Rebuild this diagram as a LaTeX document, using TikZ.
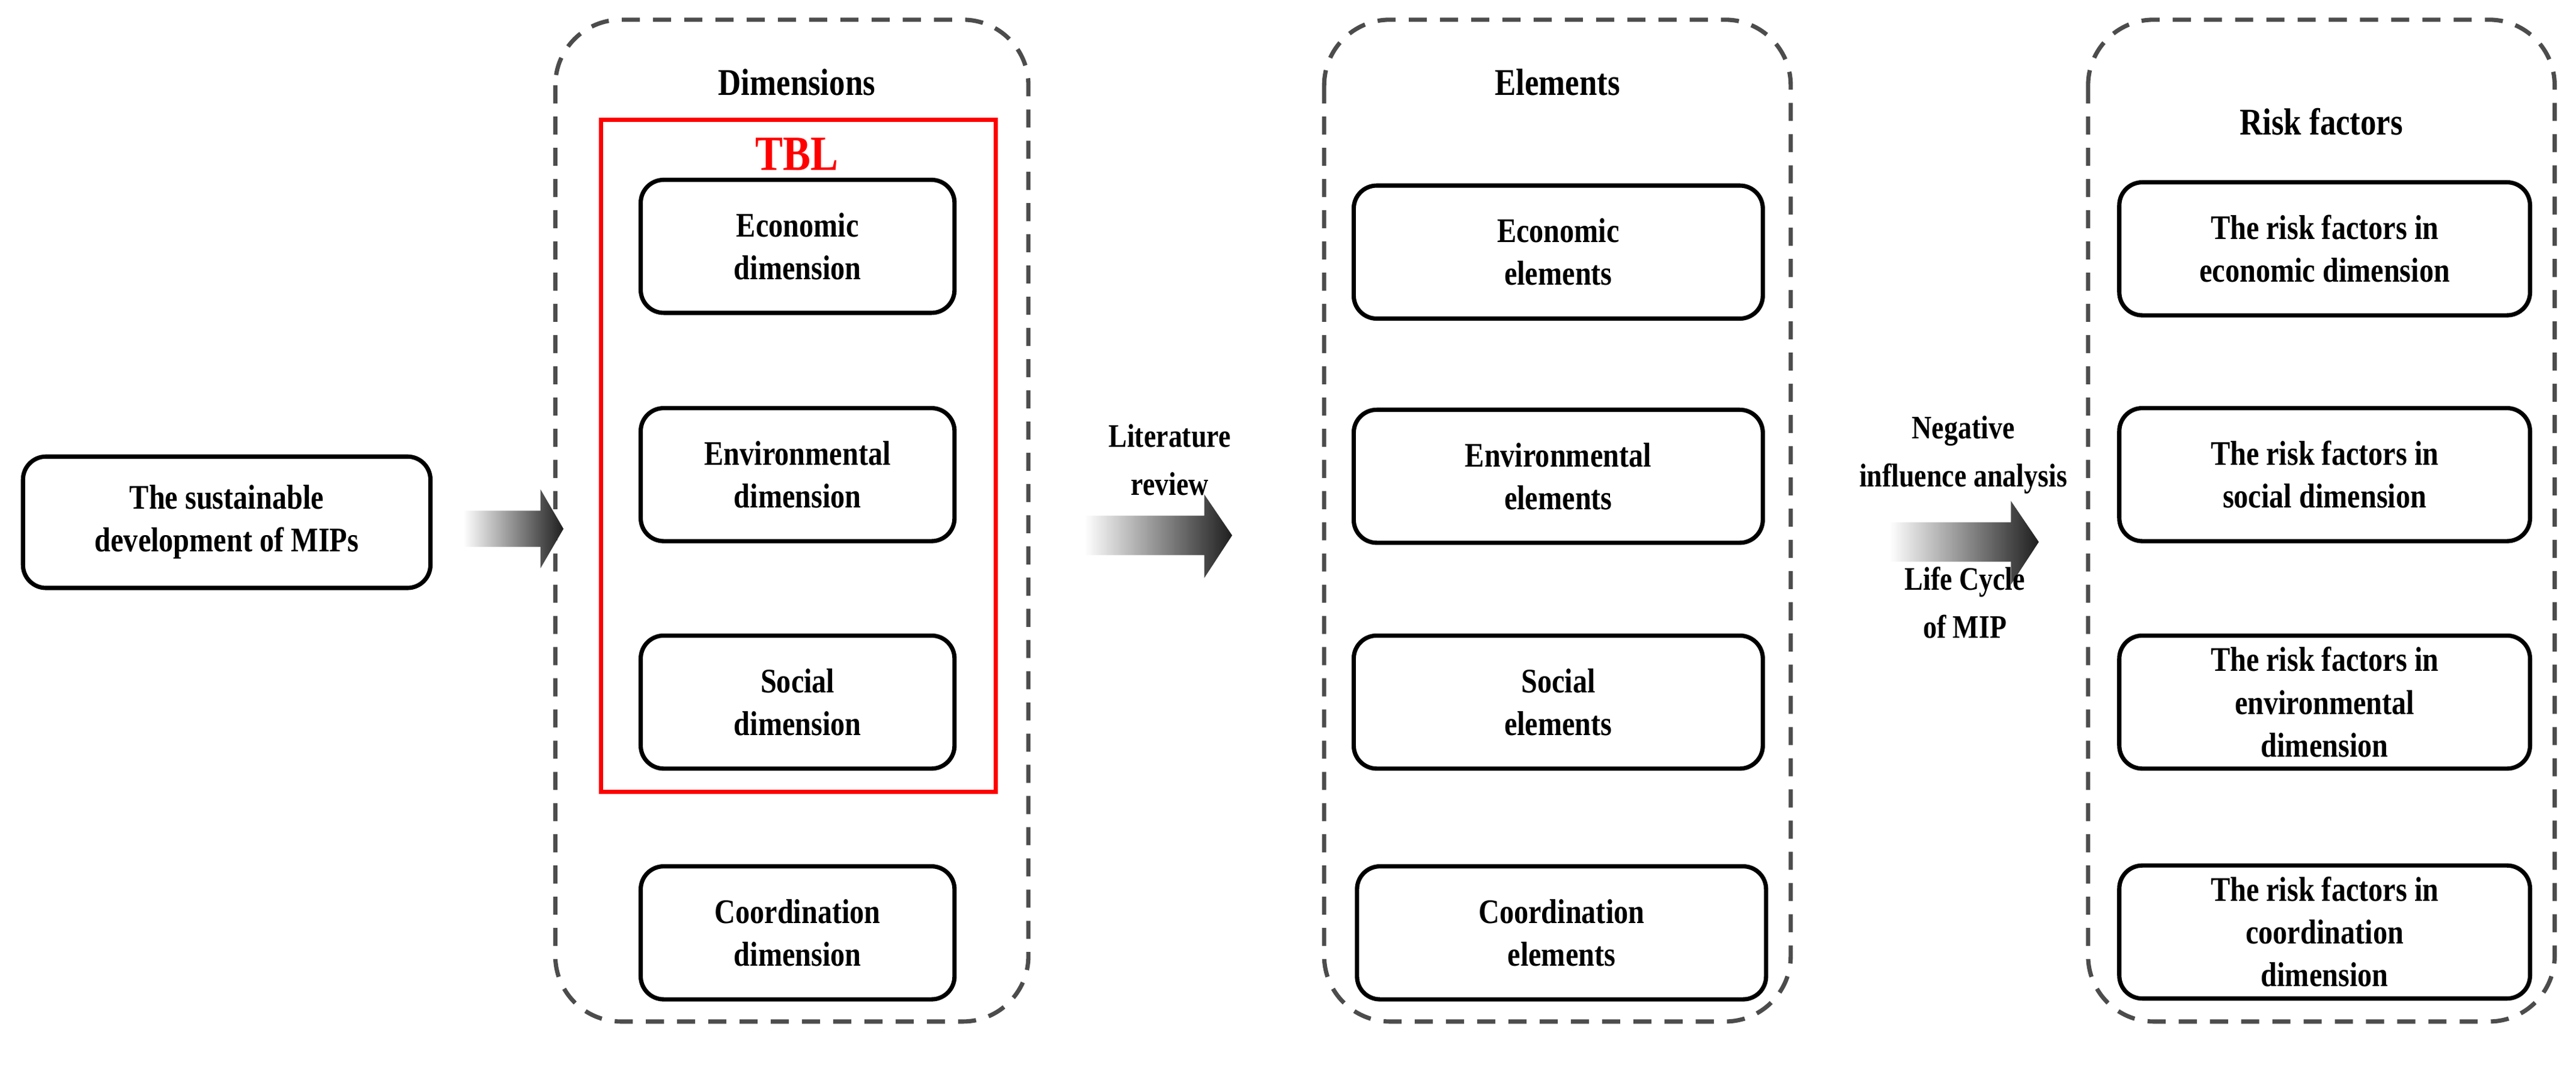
\documentclass[tikz,border=0pt]{standalone}
\usepackage{fontspec}
\setmainfont{Liberation Serif}[FakeStretch=0.84]
\begin{document}
\begin{tikzpicture}[x=1pt,y=-1pt,
  box/.style={draw=black,line width=2.6pt,rounded corners=14pt,fill=white,align=center,
    font=\fontsize{21}{26}\selectfont\bfseries,inner sep=0pt},
  cont/.style={draw=black!70,line width=2.6pt,dash pattern=on 11pt off 8pt,rounded corners=40pt},
  ttl/.style={font=\fontsize{23}{28}\selectfont\bfseries},
  lab/.style={font=\fontsize{20}{29}\selectfont\bfseries,align=center},
  shd/.style={left color=white,right color=black!88}]
\useasboundingbox (0,0) rectangle (1568,660);
% containers
\draw[cont] (338,12) rectangle (626,622);
\draw[cont] (806,12) rectangle (1090,622);
\draw[cont] (1271,12) rectangle (1555,622);
\node[ttl] (t1) at (485,50) {Dimensions};
\node[ttl] (t2) at (948,50) {Elements};
\node[ttl] (t3) at (1413,74) {Risk factors};
% red TBL
\draw[red,line width=2.6pt] (366,73) rectangle (606,482);
\node[font=\fontsize{30}{34}\selectfont\bfseries,text=red] (tbl) at (485,94) {TBL};
% left
\node[box,minimum width=248pt,minimum height=80pt] (sd) at (138,318) {The sustainable\\development of MIPs};
% column 1
\begin{scope}[every node/.style={box,minimum width=191pt,minimum height=81pt}]
\node (d1) at (485.5,150) {Economic\\dimension};
\node (d2) at (485.5,289) {Environmental\\dimension};
\node (d3) at (485.5,427.5) {Social\\dimension};
\node (d4) at (485.5,568) {Coordination\\dimension};
\end{scope}
\begin{scope}[every node/.style={box,minimum width=249pt,minimum height=81pt}]
\node (e1) at (948.5,153.5) {Economic\\elements};
\node (e2) at (948.5,290) {Environmental\\elements};
\node (e3) at (948.5,427.5) {Social\\elements};
\node (e4) at (950.5,568) {Coordination\\elements};
\end{scope}
\begin{scope}[every node/.style={box,minimum width=250pt,minimum height=81pt}]
\node (r1) at (1415,151.5) {The risk factors in\\economic dimension};
\node (r2) at (1415,289) {The risk factors in\\social dimension};
\node (r3) at (1415,427.5) {The risk factors in\\environmental\\dimension};
\node (r4) at (1415,567.5) {The risk factors in\\coordination\\dimension};
\end{scope}
% arrows
\shade[shd] (282,311) -- (329,311) -- (329,298) -- (343,322) -- (329,346) -- (329,333) -- (282,333) -- cycle;
\shade[shd] (660,314) -- (733,314) -- (733,301) -- (750,326) -- (733,352) -- (733,338) -- (660,338) -- cycle;
\shade[shd] (1150,318) -- (1224,318) -- (1224,305) -- (1241,330) -- (1224,356) -- (1224,342) -- (1150,342) -- cycle;
\node[lab] (l1) at (712,280) {Literature\\review};
\node[lab] (l2) at (1195,277) {Negative\\influence analysis};
\node[lab] (l3) at (1196,367) {Life Cycle\\of MIP};
\end{tikzpicture}
\end{document}
